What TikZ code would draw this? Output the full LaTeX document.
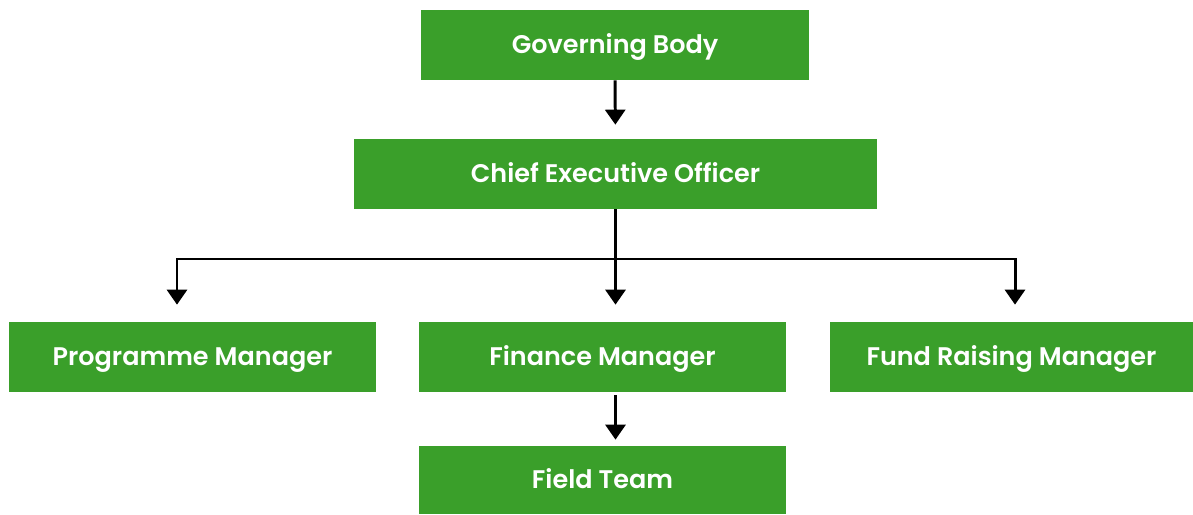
\documentclass[tikz,border=0pt]{standalone}
\usepackage{fontspec}
\setmainfont{Poppins}[BoldFont={* SemiBold}]
\usepackage{tikz}
\usetikzlibrary{arrows.meta, positioning, calc}

\definecolor{boxgreen}{HTML}{3A9F2A}

\tikzset{
  unit/.style={fill=boxgreen, text=white, font=\fontsize{14.5}{17}\selectfont\bfseries,
    minimum height=1.4cm, inner sep=0pt, text height=10pt, text depth=0pt},
  link/.style={line width=1.7pt, -{Triangle[width=0.4cm, length=0.3cm]}}
}

\begin{document}
\begin{tikzpicture}[x=0.02cm, y=-0.02cm]
\useasboundingbox (0,0) rectangle (1193,514);

\node (gov) at (615, 45) [unit, minimum width=7.76cm] {Governing Body};
\node (ceo) at (615.5, 174) [unit, minimum width=10.46cm] {Chief Executive Officer};
\node (prog) at (192.5, 357) [unit, minimum width=7.34cm] {Programme Manager};
\node (fin) at (602.5, 357) [unit, minimum width=7.34cm] {Finance Manager};
\node (fund) at (1011.5, 357) [unit, minimum width=7.26cm] {Fund Raising Manager};
\node (field) at (602.5, 480) [unit, minimum width=7.34cm, minimum height=1.36cm] {Field Team};

\coordinate (split) at (615.5, 259);

\draw[link, shorten >=0.28cm] (gov.south) -- (ceo.north);
\draw[link, shorten >=0.34cm] (ceo.south) -- (fin.north -| ceo.south);
\draw[link, shorten >=0.34cm] (split) -| ([xshift=-0.31cm]prog.north);
\draw[link, shorten >=0.34cm] (split) -| ([xshift=0.07cm]fund.north);
\draw[link, shorten <=0.06cm, shorten >=0.12cm] (fin.south -| ceo.south) -- (field.north -| ceo.south);
\end{tikzpicture}
\end{document}
